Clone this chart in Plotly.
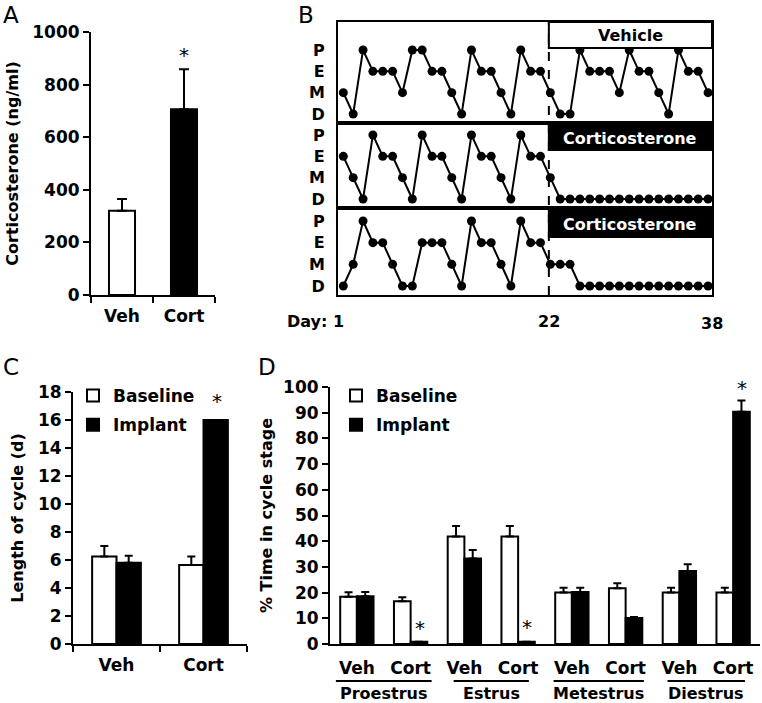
import plotly.graph_objects as go

W, H = 762, 703
FONT = "DejaVu Sans"

# ---------------- data ----------------
# Panel A: plasma corticosterone
a_groups = ["Veh", "Cort"]
a_means = [320, 706]
a_sem = [45, 152]
a_colors = ["white", "black"]

# Panel B: daily estrous-cycle stage (P, E, M, D) for three representative mice
b_days = list(range(1, 39))
b_stage_order = ["D", "M", "E", "P"]
b_vehicle = list("MDPEEEMPPEEMDPEEMDPEEMDDPEEEMPEEMDPEEM")
b_cort1 = list("EMDPEEMDPEEMDPEEMDPEEM" + "DDDDDDDDDDDDDDDD")
b_cort2 = list("DMPEEMDDEEEMDPEEMDPEEMMM" + "DDDDDDDDDDDDDD")
b_row_labels = ["Vehicle", "Corticosterone", "Corticosterone"]
b_day_labels = ["Day: 1", "22", "38"]

# Panel C: length of cycle (d)
c_groups = ["Veh", "Cort"]
c_base = [6.25, 5.65]
c_base_sem = [0.75, 0.6]
c_impl = [5.8, 16.0]
c_impl_sem = [0.5, 0.0]

# Panel D: % time in cycle stage
d_stages = ["Proestrus", "Estrus", "Metestrus", "Diestrus"]
d_treat = ["Veh", "Cort"]
d_base = [18.4, 16.6, 41.8, 41.8, 20.0, 21.7, 20.0, 20.0]
d_base_sem = [1.7, 1.6, 4.1, 4.1, 1.9, 1.9, 1.9, 1.9]
d_impl = [18.6, 0.9, 33.3, 0.9, 20.2, 10.1, 28.4, 90.4]
d_impl_sem = [1.6, 0.0, 3.3, 0.0, 1.7, 0.4, 2.6, 4.3]

# ---------------- helpers ----------------
def px_x(p):
    return p / W

def px_y(p):
    return 1 - p / H

BOLD = dict(family=FONT, size=16, weight="bold", color="black")
TICK = dict(family=FONT, size=17, weight="bold", color="black")
ERR = dict(color="black", thickness=2)

def axis(**kw):
    base = dict(showline=True, linecolor="black", linewidth=2, ticks="outside",
                tickcolor="black", tickwidth=2, ticklen=6, showgrid=False,
                zeroline=False, tickfont=TICK)
    base.update(kw)
    return base

fig = go.Figure()

# ---- Panel A ----
fig.add_trace(go.Bar(
    x=a_groups, y=a_means, width=0.42,
    marker=dict(color=a_colors, line=dict(color="black", width=2)),
    error_y=dict(type="data", symmetric=False, array=a_sem, arrayminus=[0] * len(a_sem),
                 width=5, **ERR),
    xaxis="x", yaxis="y", showlegend=False, hoverinfo="skip"))

# ---- Panel B ----
for i, series in enumerate([b_vehicle, b_cort1, b_cort2]):
    n = i + 2
    fig.add_trace(go.Scatter(
        x=b_days, y=series, mode="lines+markers",
        line=dict(color="black", width=2),
        marker=dict(color="black", size=9),
        xaxis=f"x{n}", yaxis=f"y{n}", showlegend=False, hoverinfo="skip"))

# ---- Panel C ----
fig.add_trace(go.Bar(
    x=c_groups, y=c_base, width=0.28, offset=-0.28, name="Baseline",
    marker=dict(color="white", line=dict(color="black", width=2)),
    error_y=dict(type="data", symmetric=False, array=c_base_sem,
                 arrayminus=[0] * len(c_base_sem), width=4, **ERR),
    xaxis="x5", yaxis="y5", legend="legend", legendgroup="cb", hoverinfo="skip"))
fig.add_trace(go.Bar(
    x=c_groups, y=c_impl, width=0.28, offset=0.0, name="Implant",
    marker=dict(color="black", line=dict(color="black", width=2)),
    error_y=dict(type="data", symmetric=False, array=c_impl_sem,
                 arrayminus=[0] * len(c_impl_sem), width=4, **ERR),
    xaxis="x5", yaxis="y5", legend="legend", legendgroup="ci", hoverinfo="skip"))

# ---- Panel D ----
d_pos = list(range(len(d_base)))
d_ticktext = [d_treat[i % 2] for i in d_pos]
fig.add_trace(go.Bar(
    x=d_pos, y=d_base, width=0.31, offset=-0.31, name="Baseline",
    marker=dict(color="white", line=dict(color="black", width=2)),
    error_y=dict(type="data", symmetric=False, array=d_base_sem,
                 arrayminus=[0] * len(d_base_sem), width=4, **ERR),
    xaxis="x6", yaxis="y6", legend="legend2", legendgroup="db", hoverinfo="skip"))
fig.add_trace(go.Bar(
    x=d_pos, y=d_impl, width=0.31, offset=0.0, name="Implant",
    marker=dict(color="black", line=dict(color="black", width=2)),
    error_y=dict(type="data", symmetric=False, array=d_impl_sem,
                 arrayminus=[0] * len(d_impl_sem), width=4, **ERR),
    xaxis="x6", yaxis="y6", legend="legend2", legendgroup="di", hoverinfo="skip"))

# ---------------- layout ----------------
layout = dict(
    width=W, height=H, autosize=False,
    margin=dict(l=0, r=0, t=0, b=0),
    paper_bgcolor="white", plot_bgcolor="white",
    template="none", barmode="overlay",
    font=dict(family=FONT, size=16, color="black", weight="bold"),
)

# Panel A axes
layout["xaxis"] = axis(domain=[px_x(91), px_x(215)], anchor="y", type="category",
                       range=[-0.5, 1.5], tickson="boundaries", ticklabelstandoff=5)
layout["yaxis"] = axis(domain=[px_y(295), px_y(32)], anchor="x", range=[0, 1000],
                       tickvals=[0, 200, 400, 600, 800, 1000],
                       title=dict(text="Corticosterone (ng/ml)", font=BOLD, standoff=10))

# Panel B axes (three stacked rows)
b_rows = [(22, 123, [-0.42, 4.31]), (123, 208, [-0.42, 3.56]), (208, 295, [-0.415, 3.6])]
for i, (top, bot, yr) in enumerate(b_rows):
    n = i + 2
    layout[f"xaxis{n}"] = dict(domain=[px_x(338), px_x(712)], anchor=f"y{n}",
                               range=[0.46, 38.4], showline=True, mirror=True,
                               linecolor="black", linewidth=2, ticks="",
                               showticklabels=False, showgrid=False, zeroline=False)
    layout[f"yaxis{n}"] = dict(domain=[px_y(bot), px_y(top)], anchor=f"x{n}",
                               type="category", categoryorder="array",
                               categoryarray=b_stage_order, range=yr,
                               showline=True, mirror=True, linecolor="black",
                               linewidth=2, ticks="", showgrid=False, zeroline=False,
                               tickfont=BOLD, ticklabelstandoff=8)

# Panel C axes
layout["xaxis5"] = axis(domain=[px_x(73), px_x(247)], anchor="y5", type="category",
                        range=[-0.5, 1.5], tickson="boundaries", ticklabelstandoff=5)
layout["yaxis5"] = axis(domain=[px_y(644), px_y(392)], anchor="x5", range=[0, 18],
                        tickvals=list(range(0, 19, 2)),
                        title=dict(text="Length of cycle (d)", font=BOLD, standoff=10))

# Panel D axes
layout["xaxis6"] = axis(domain=[px_x(330), px_x(760)], anchor="y6", range=[-0.5, 7.5],
                        tickvals=d_pos, ticktext=d_ticktext, ticks="",
                        ticklabelstandoff=8)
layout["xaxis7"] = dict(overlaying="x6", anchor="y6", range=[-0.5, 7.5],
                        tickvals=[1.5, 3.5, 5.5, 7.5], showticklabels=False,
                        ticks="outside", ticklen=6, tickwidth=2, tickcolor="black",
                        showline=False, showgrid=False, zeroline=False)
layout["yaxis6"] = axis(domain=[px_y(644), px_y(387)], anchor="x6", range=[0, 100],
                        tickvals=list(range(0, 101, 10)),
                        title=dict(text="% Time in cycle stage", font=BOLD, standoff=6))

# Legends
LEG_FONT = dict(family=FONT, size=17, weight="bold", color="black")
layout["legend"] = dict(x=px_x(73), y=px_y(378), xanchor="left", yanchor="top",
                        bgcolor="rgba(0,0,0,0)", borderwidth=0, font=LEG_FONT,
                        tracegroupgap=4)
layout["legend2"] = dict(x=px_x(336), y=px_y(378), xanchor="left", yanchor="top",
                         bgcolor="rgba(0,0,0,0)", borderwidth=0, font=LEG_FONT,
                         tracegroupgap=4)

shapes = []
annotations = []

def ann(**kw):
    base = dict(showarrow=False, xanchor="center", yanchor="middle")
    base.update(kw)
    annotations.append(base)

# Panel letters
for letter, cx, cy in [("A", 11, 15), ("B", 306, 15), ("C", 11, 367), ("D", 267, 367)]:
    ann(text=letter, x=px_x(cx), y=px_y(cy), xref="paper", yref="paper",
        font=dict(family=FONT, size=23, color="black", weight="normal"))

# Panel B: dashed implant line, label boxes
DASH_X = 21.85
shapes.append(dict(type="line", xref="x2", yref="paper", x0=DASH_X, x1=DASH_X,
                   y0=px_y(295), y1=px_y(22), line=dict(color="black", width=2, dash="dash"),
                   layer="below"))
box_rows = [(22, 48), (124, 150), (209, 237)]
for i, ((t, b), lab) in enumerate(zip(box_rows, b_row_labels)):
    n = i + 2
    filled = lab != "Vehicle"
    shapes.append(dict(type="rect", xref=f"x{n}", yref="paper", x0=DASH_X, x1=38.4,
                       y0=px_y(b), y1=px_y(t),
                       fillcolor="black" if filled else "white",
                       line=dict(color="black", width=2), layer="above"))
    ann(text=lab, x=(DASH_X + 38.4) / 2, y=px_y((t + b) / 2 + 1),
        xref=f"x{n}", yref="paper",
        font=dict(family=FONT, size=16, weight="bold",
                  color="white" if filled else "black"))

# Day labels under panel B
ann(text=b_day_labels[0], x=1, xref="x4", y=px_y(321), yref="paper",
    xanchor="right", xshift=3, font=BOLD)
ann(text=b_day_labels[1], x=DASH_X, xref="x4", y=px_y(321), yref="paper", font=BOLD)
ann(text=b_day_labels[2], x=38.4, xref="x4", y=px_y(323), yref="paper", font=BOLD)

# Panel D group labels with underlines
half_w = [0.89, 0.70, 0.84, 0.72]
for g, stage in enumerate(d_stages):
    cx = 2 * g + 0.5
    ann(text=stage, x=cx, xref="x6", y=px_y(693), yref="paper", font=BOLD)
    shapes.append(dict(type="line", xref="x6", yref="paper", x0=cx - half_w[g],
                       x1=cx + half_w[g], y0=px_y(681), y1=px_y(681),
                       line=dict(color="black", width=2)))

# Significance asterisks
STAR = dict(family=FONT, size=20, color="black", weight="normal")
for xr, yr, xv, yv, ys in [("x", "y", "Cort", 930, -5), ("x5", "y5", 1.15, 17.7, -5),
                           ("x6", "y6", 1.17, 8.0, -5), ("x6", "y6", 3.17, 8.7, -5),
                           ("x6", "y6", 7.17, 100, -1)]:
    ann(text="*", x=xv, y=yv, xref=xr, yref=yr, yshift=ys, font=STAR)

layout["shapes"] = shapes
layout["annotations"] = annotations
fig.update_layout(**layout)

fig.write_html(
    "out.html",
    config={"displayModeBar": False, "staticPlot": True},
    post_script="document.body.style.margin='0px';document.body.style.padding='0px';",
)
